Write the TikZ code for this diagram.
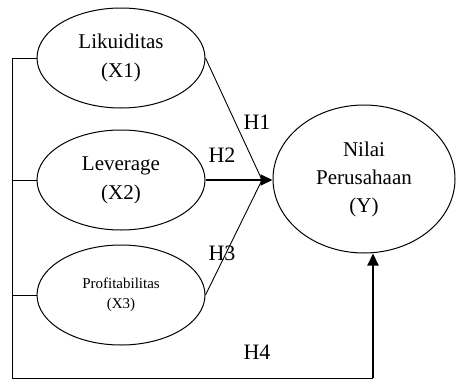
\documentclass[tikz,border=0pt]{standalone}
\usepackage{fontspec}
\setmainfont{Liberation Serif}
\usetikzlibrary{shapes.geometric,arrows.meta}
\begin{document}
\begin{tikzpicture}[x=1pt,y=-1pt,
  var/.style={draw,ellipse,line width=1pt,inner sep=0pt,minimum width=168pt,minimum height=100pt,align=center,font=\fontsize{21}{29}\selectfont},
  conn/.style={line width=0.9pt},
  thickarrow/.style={line width=2pt,-{Triangle[length=12pt,width=11pt]}},
  lab/.style={font=\fontsize{22}{26}\selectfont,inner sep=0pt}]
\useasboundingbox (0,0) rectangle (457,380);
\node[var] (X1) at (121,58) {Likuiditas\\(X1)};
\node[var] (X2) at (121,180) {Leverage\\(X2)};
\node[var,font=\fontsize{15}{20}\selectfont] (X3) at (121,295) {Profitabilitas\\(X3)};
\node[var,minimum width=182pt,minimum height=148pt,font=\fontsize{21}{28}\selectfont] (Y) at (364,179) {Nilai\\Perusahaan\\(Y)};
\coordinate (m) at (262,180);
\coordinate (bl) at (12,378);
\coordinate (br) at (373,378);
\draw[conn] (X1.east) -- (m);
\draw[conn] (X3.east) -- (m);
\draw[thickarrow] (X2.east) -- (X2.east -| Y.west);
\draw[conn] (X1.west) -| (bl) -- (br);
\draw[conn] (X2.west) -- (X2.west -| bl);
\draw[conn] (X3.west) -- (X3.west -| bl);
\draw[thickarrow] (br) -- (br |- Y.south);
\node[lab] (h1) at (257,122) {H1};
\node[lab] (h2) at (222,155) {H2};
\node[lab] (h3) at (222,253) {H3};
\node[lab] (h4) at (257,352) {H4};
\end{tikzpicture}
\end{document}
